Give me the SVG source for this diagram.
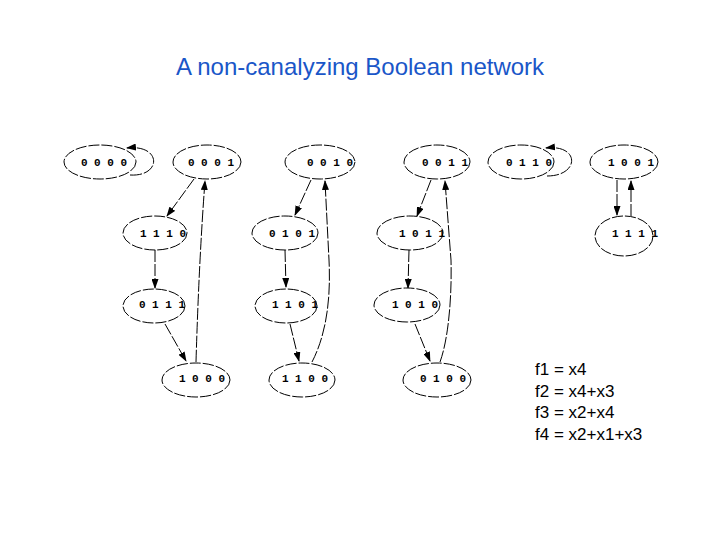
<svg xmlns="http://www.w3.org/2000/svg" width="720" height="540" viewBox="0 0 720 540">
<defs>
<marker id="arr" markerWidth="10" markerHeight="7" refX="9" refY="3.5" orient="auto" markerUnits="userSpaceOnUse">
<path d="M0,0 L10,3.5 L0,7 Z" fill="#000"/>
</marker>
<style>
.node ellipse{fill:#fff;stroke:#000;stroke-width:1;stroke-dasharray:11 2}
.node text{font-family:"Liberation Mono","DejaVu Sans Mono",monospace;font-size:11px;font-weight:bold;fill:#000;text-anchor:middle}
#edges path{fill:none;stroke:#000;stroke-width:1;stroke-dasharray:12 2;marker-end:url(#arr)}
.title{font-family:"Liberation Sans",Arial,sans-serif;font-size:24px;fill:#1a56c8;text-anchor:middle}
.eq{font-family:"Liberation Sans",Arial,sans-serif;font-size:17px;fill:#000}
</style>
</defs>
<rect width="720" height="540" fill="#fff"/>
<text class="title" x="360" y="75">A non-canalyzing Boolean network</text>

<g id="edges">
<path d="M130,175 C162,177 162,144 127,148"/>
<path d="M547,176 C580,176 580,144 546,148"/>
<path d="M194,179 L167,216"/>
<path d="M155,250 L155,288"/>
<path d="M165,324 L186,361"/>
<path d="M196,362 Q199,260 205,181"/>
<path d="M311,180 L295,215"/>
<path d="M285,250 L286,287"/>
<path d="M290,324 L299,361"/>
<path d="M312,362 C326,335 331,300 329,260 L325,181"/>
<path d="M431,180 L417,216"/>
<path d="M409,250 L408,288"/>
<path d="M415,324 L430,361"/>
<path d="M440,362 C448,340 452,300 451,260 L445,181"/>
<path d="M617,180 L617,215"/>
<path d="M631,216 L631,181"/>
</g>

<g id="n0000" class="node"><ellipse cx="100" cy="162" rx="36" ry="17"/><text x="104" y="166">0 0 0 0</text></g>
<g id="n0001" class="node"><ellipse cx="207" cy="162" rx="34" ry="17"/><text x="211" y="166">0 0 0 1</text></g>
<g id="n0010" class="node"><ellipse cx="320" cy="162" rx="35" ry="17"/><text x="330" y="166">0 0 1 0</text></g>
<g id="n0011" class="node"><ellipse cx="437" cy="162" rx="33" ry="17"/><text x="445" y="166">0 0 1 1</text></g>
<g id="n0110" class="node"><ellipse cx="521" cy="162" rx="33" ry="17"/><text x="529" y="166">0 1 1 0</text></g>
<g id="n1001" class="node"><ellipse cx="624" cy="162" rx="34" ry="17"/><text x="631" y="166">1 0 0 1</text></g>

<g id="n1110" class="node"><ellipse cx="155" cy="233" rx="32" ry="17"/><text x="163" y="237">1 1 1 0</text></g>
<g id="n0101" class="node"><ellipse cx="285" cy="233" rx="33" ry="17"/><text x="292" y="237">0 1 0 1</text></g>
<g id="n1011" class="node"><ellipse cx="410" cy="233" rx="33" ry="17"/><text x="422" y="237">1 0 1 1</text></g>
<g id="n1111" class="node"><ellipse cx="624" cy="236" rx="29" ry="20"/><text x="635" y="237">1 1 1 1</text></g>

<g id="n0111" class="node"><ellipse cx="154" cy="306" rx="31" ry="17"/><text x="162" y="308">0 1 1 1</text></g>
<g id="n1101" class="node"><ellipse cx="286" cy="306" rx="31" ry="17"/><text x="295" y="308">1 1 0 1</text></g>
<g id="n1010" class="node"><ellipse cx="407" cy="305" rx="33" ry="17"/><text x="415" y="308">1 0 1 0</text></g>

<g id="n1000" class="node"><ellipse cx="196" cy="380" rx="34" ry="17"/><text x="202" y="382">1 0 0 0</text></g>
<g id="n1100" class="node"><ellipse cx="302" cy="380" rx="33" ry="17"/><text x="305" y="382">1 1 0 0</text></g>
<g id="n0100" class="node"><ellipse cx="437" cy="380" rx="34" ry="17"/><text x="443" y="382">0 1 0 0</text></g>

<g id="equations">
<text class="eq" x="535" y="375">f1 = x4</text>
<text class="eq" x="535" y="397">f2 = x4+x3</text>
<text class="eq" x="535" y="418">f3 = x2+x4</text>
<text class="eq" x="535" y="440">f4 = x2+x1+x3</text>
</g>
</svg>
